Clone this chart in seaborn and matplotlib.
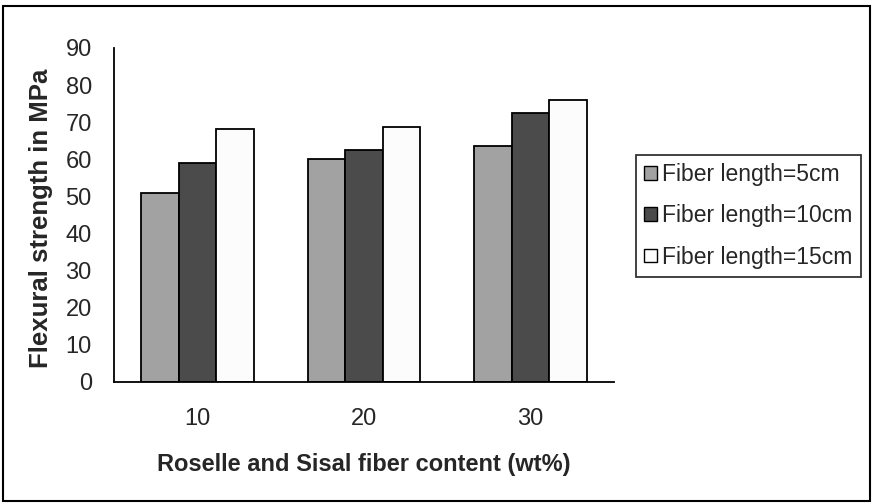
import matplotlib
matplotlib.use("Agg")
import matplotlib.pyplot as plt
from matplotlib.patches import Rectangle, Patch
import seaborn as sns
import pandas as pd

# Flexural strength (MPa) by fiber content and fiber length
fiber_content = ["10", "20", "30"]
length_5cm = [51.0, 60.0, 63.6]
length_10cm = [59.1, 62.6, 72.5]
length_15cm = [68.3, 68.8, 76.1]
series_names = ["Fiber length=5cm", "Fiber length=10cm", "Fiber length=15cm"]
bar_colors = ["#a2a2a2", "#4b4b4b", "#fcfcfc"]

df = pd.DataFrame({
    "content": fiber_content * 3,
    "strength": length_5cm + length_10cm + length_15cm,
    "series": [series_names[0]] * 3 + [series_names[1]] * 3 + [series_names[2]] * 3,
})

sns.set_style("white")
plt.rcParams["font.family"] = ["Liberation Sans", "DejaVu Sans"]

W, H = 873, 503
fig = plt.figure(figsize=(W / 100, H / 100), dpi=100)
ax = fig.add_axes([114 / W, 1 - 382 / H, 500 / W, 334 / H])

sns.barplot(data=df, x="content", y="strength", hue="series",
            order=fiber_content, hue_order=series_names,
            palette=bar_colors, width=0.675, gap=0,
            edgecolor="black", linewidth=1.3, ax=ax, legend=False)

ax.set_xlim(-0.5, 2.5)
ax.set_ylim(0, 90)
ax.set_yticks(range(0, 91, 10))
ax.set_xticks([-0.5, 0.5, 1.5, 2.5], minor=True)
ax.tick_params(axis="x", which="major", length=0, labelsize=17, pad=19)
ax.tick_params(axis="x", which="minor", length=7, width=1.2, direction="out", color="black")
ax.tick_params(axis="y", length=7, width=1.2, direction="out", color="black", labelsize=17, pad=9)
for side in ["top", "right"]:
    ax.spines[side].set_visible(False)
for side in ["left", "bottom"]:
    ax.spines[side].set_color("black")
    ax.spines[side].set_linewidth(1.3)

ax.set_xlabel("Roselle and Sisal fiber content (wt%)", fontsize=17, fontweight="bold")
ax.set_ylabel("Flexural strength in MPa", fontsize=18.5, fontweight="bold")
ax.xaxis.set_label_coords(0.5, (382 - 464) / 334, transform=ax.transAxes)
ax.yaxis.set_label_coords((41 - 114) / 500, (382 - 218) / 334, transform=ax.transAxes)
ax.xaxis.label.set_va("center")
ax.yaxis.label.set_va("center")

handles = [Patch(facecolor=c, edgecolor="black", linewidth=1.0) for c in bar_colors]
leg = fig.legend(handles, series_names, loc="upper left",
                 bbox_to_anchor=(636 / W, 1 - 155 / H), fontsize=16.5,
                 frameon=True, fancybox=False, edgecolor="black",
                 handlelength=0.55, handleheight=0.55, handletextpad=0.25,
                 borderpad=0.35, labelspacing=0.8, borderaxespad=0)
leg.get_frame().set_linewidth(1.3)

# outer frame around the figure
fig.patches.append(Rectangle((3 / W, 2 / H), 867 / W, 495 / H, transform=fig.transFigure,
                             fill=False, edgecolor="black", linewidth=1.5))

fig.savefig("out.png", dpi=100)
